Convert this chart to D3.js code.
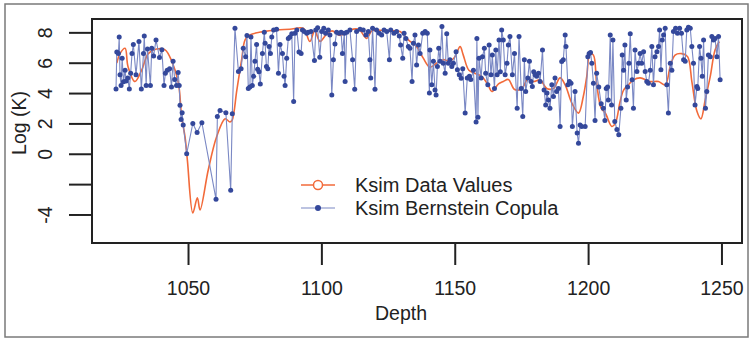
<!DOCTYPE html>
<html>
<head>
<meta charset="utf-8">
<script src="https://cdn.jsdelivr.net/npm/d3@7"></script>
<style>
  body { margin: 0; background: #fff; }
  svg { display: block; font-family: "Liberation Sans", Arial, sans-serif; }
</style>
</head>
<body>
<svg id="chart" width="752" height="340"></svg>
<script>
// ---- data ----
var dataDepth = [1023.3,1024.5,1026.4,1027.5,1030.1,1032.6,1035.1,1038.2,1041.4,1043.9,1046.4,1047.6,1048.9,1049.8,
  1051.8,1053.5,1054.5,1057.6,1060.7,1063.9,1065.7,1066.5,1068.3,1070.1,1071.4,1073.2,1078.2,1083.3,1088.2,1093.2,
  1095.7,1097.5,1099.5,1102,1104,1107,1110.7,1114,1117,1119,1125,1129.5,1132.6,1135.7,1138.2,1140.7,1143.2,1145.7,
  1148.2,1150.1,1152,1153.2,1155.3,1157.5,1160.1,1162.6,1163.9,1166.4,1168.2,1170.1,1172.3,1174,1175.7,1177.6,
  1179.5,1182,1184.5,1187,1189.5,1191.4,1193.9,1196.4,1198.2,1199.5,1200.7,1202,1203.2,1204.9,1206.4,1208.9,
  1210.2,1212,1213.3,1215.1,1217,1219.5,1223.3,1226.4,1228.9,1230.8,1232.6,1235.1,1237.3,1238.9,1240.8,1242.3,
  1243.9,1245.8,1247.6,1249.2];
var dataK = [5.97,6.6,6.95,5.75,4.76,5.5,6.6,6.9,6.85,6.1,4.65,2.45,1.1,-0.5,
  -3.9,-2.9,-3.7,-1.05,1.1,2.3,2.1,2.2,4.2,6.2,7.5,7.83,8.05,8.16,8.2,8.27,
  7.4,8.1,7.4,7.9,8.1,7.8,8.16,8.2,7.6,8.1,8.1,8.05,7.5,7.06,6.3,5.7,5.97,6.2,
  6.1,6.4,7.06,6.5,5.5,5.3,5.1,4.5,4.1,4.6,4.76,4.9,4.25,4.2,4.43,5.0,
  4.76,4.87,4.3,4.3,5.0,4.54,3.33,2.68,3.77,5.1,6.6,6.5,4.65,3.0,2.7,1.8,
  2.0,3.44,4.2,4.54,4.87,5.0,4.76,4.76,4.54,5.75,6.5,6.6,6.4,4.76,2.8,2.3,
  3.55,5.1,6.84,7.4];

var copDepth = [1023.0,1023.3,1023.9,1024.2,1024.5,1024.9,1025.3,1025.8,1026.4,1026.8,1027.4,1028.0,1028.5,1029.0,1029.5,
  1030.5,1031.6,1032.5,1033.3,1033.6,1034.3,1034.8,1035.9,1036.4,1037.1,1038.0,1039.3,1040.2,1041.0,1041.5,1042.2,
  1043.1,1043.8,1044.4,1045.0,1045.7,1046.3,1046.7,1047.0,1047.4,1047.8,1048.2,1049.5,1051.8,1053.4,1055.2,1060.5,
  1061.0,1062.0,1064.2,1066.0,1066.6,1067.6,1068.9,1069.9,1070.7,1071.6,1072.1,1072.6,1073.2,1073.6,1074.1,1074.6,
  1075.1,1075.7,1076.1,1076.6,1077.1,1077.9,1078.6,1078.9,1079.4,1079.9,1080.4,1080.9,1081.4,1082.1,1083.2,1083.9,
  1084.5,1085.4,1086.0,1086.4,1087.0,1087.6,1088.2,1088.9,1089.6,1090.1,1090.8,1091.6,1092.4,1092.9,1093.6,1094.5,
  1095.1,1096.1,1097.4,1097.9,1098.6,1099.4,1100.1,1100.9,1101.6,1102.6,1103.2,1103.9,1104.5,1105.1,1105.7,1106.6,
  1107.4,1107.9,1108.6,1108.9,1109.5,1110.7,1111.7,1112.5,1113.2,1114.5,1115.7,1116.7,1117.6,1118.2,1118.5,1119.2,
  1120.1,1120.7,1121.7,1122.6,1123.5,1124.5,1125.5,1126.0,1127.2,1128.2,1129.2,1129.7,1130.5,1131.0,1131.7,1132.6,
  1133.2,1134.0,1134.5,1135.1,1135.7,1136.4,1137.0,1138.0,1138.9,1139.7,1140.5,1140.7,1141.4,1142.0,1142.6,1143.0,
  1143.5,1144.0,1144.5,1145.2,1145.7,1146.4,1147.0,1147.6,1148.2,1148.9,1149.5,1150.5,1151.0,1151.7,1152.4,1153.0,
  1153.9,1154.7,1155.5,1156.0,1157.0,1158.0,1158.3,1158.7,1159.1,1159.9,1160.4,1161.1,1161.6,1162.4,1162.9,1163.6,
  1164.1,1164.9,1165.4,1165.9,1166.6,1167.1,1167.6,1168.2,1168.9,1169.6,1170.1,1170.7,1171.6,1172.4,1173.4,1174.1,
  1174.9,1175.5,1176.1,1176.6,1177.4,1178.0,1178.6,1179.1,1179.6,1180.1,1180.7,1181.4,1182.0,1182.9,1183.5,1184.1,
  1184.6,1185.1,1185.7,1186.4,1187.0,1187.6,1188.2,1188.9,1189.5,1190.1,1190.7,1191.4,1191.7,1192.4,1193.0,1193.6,
  1194.1,1195.1,1195.9,1196.4,1197.0,1197.6,1198.9,1199.9,1200.4,1200.9,1201.4,1202.0,1202.6,1203.2,1204.0,1204.9,
  1205.7,1206.3,1206.8,1207.3,1207.6,1208.3,1208.8,1209.3,1210.0,1210.8,1211.5,1212.3,1212.8,1213.3,1213.8,1214.3,
  1214.8,1215.3,1215.8,1216.5,1217.0,1217.6,1218.3,1218.9,1219.5,1220.1,1220.8,1221.4,1222.0,1222.6,1223.3,1223.9,
  1224.5,1225.1,1225.8,1226.4,1226.8,1227.3,1227.8,1228.3,1228.9,1229.5,1230.1,1230.8,1231.4,1232.0,1232.8,1233.5,
  1234.3,1235.0,1235.8,1236.4,1237.0,1237.6,1238.3,1238.9,1239.5,1240.1,1240.8,1241.1,1241.8,1242.3,1242.8,1243.3,
  1244.0,1244.5,1245.1,1245.8,1246.4,1247.0,1247.6,1248.3,1248.9,1249.5];
var copK = [4.26,6.7,6.6,7.7,5.2,4.5,6.3,4.75,5.5,4.8,5.0,4.26,5.3,6.6,7.2,
  5.2,7.4,4.26,6.6,7.76,4.5,6.9,4.5,6.95,6.45,7.5,6.35,6.85,4.5,5.3,5.5,
  5.6,4.4,6.1,4.9,4.5,5.35,4.5,3.2,2.25,2.7,1.9,0.0,2.0,1.4,2.05,-3.0,
  2.45,2.85,2.7,-2.4,2.63,8.27,5.42,5.6,6.95,6.4,7.8,4.3,4.4,7.7,4.5,5.1,
  6.1,7.2,5.57,5.4,4.6,6.6,8.0,7.28,5.75,5.6,7.06,6.6,7.7,8.16,8.2,5.3,
  7.2,6.6,5.1,4.5,6.3,7.6,7.7,7.9,3.44,7.94,8.16,6.7,6.6,8.16,8.05,7.94,
  8.0,8.05,6.14,8.16,8.3,6.36,8.05,8.27,7.94,8.16,7.83,3.88,6.2,7.24,8.0,7.94,
  8.0,6.6,7.94,4.76,8.0,8.16,6.2,4.25,8.05,8.2,8.16,7.83,8.05,6.2,5.0,8.27,
  4.25,8.16,7.94,7.83,8.16,8.05,6.2,8.16,7.94,8.05,7.76,7.17,6.3,7.94,7.6,7.06,
  6.95,4.76,7.28,7.83,5.85,7.17,6.6,7.94,8.05,7.94,4.0,6.84,4.54,6.1,4.2,3.88,
  5.75,6.95,6.1,8.38,5.97,5.3,7.9,5.97,6.2,5.75,5.97,6.73,5.53,5.2,4.98,5.6,
  2.68,5.0,5.1,4.9,5.5,2.1,7.6,2.4,6.3,5.0,6.4,6.95,5.3,4.54,7.17,5.2,
  6.5,4.3,6.84,5.2,7.5,5.4,8.16,7.5,5.2,5.96,7.17,7.72,5.2,6.6,3.0,7.72,
  4.3,2.45,6.2,4.1,5.0,6.1,4.76,4.43,5.4,5.2,5.1,5.3,4.76,6.84,4.2,3.22,
  4.0,3.55,3.0,4.54,3.77,5.0,4.1,4.3,1.8,6.08,6.2,7.83,7.06,4.54,4.76,4.65,
  1.8,4.1,1.36,0.7,1.9,1.8,1.8,6.4,6.6,6.67,5.96,4.65,2.2,5.3,4.4,3.3,
  3.0,2.2,4.3,4.4,3.55,7.83,3.22,7.5,2.13,1.6,1.25,3.0,6.5,5.5,7.17,3.55,
  4.4,5.96,7.9,4.87,3.0,6.84,5.42,5.96,6.6,5.96,6.73,5.42,4.76,4.65,5.5,7.06,
  4.54,6.4,6.73,7.06,8.16,5.53,7.5,7.83,8.27,4.54,2.68,5.96,5.5,8.05,8.27,7.94,
  8.27,7.94,6.2,6.1,8.16,8.33,8.27,7.06,5.96,3.22,4.43,4.3,7.06,6.3,5.1,7.5,
  3.0,4.1,6.5,6.4,7.72,7.5,7.6,6.4,7.72,4.87];

var xTicks = [1050, 1100, 1150, 1200, 1250];
var yTicks = [-4, -2, 0, 2, 4, 6, 8];
var yTickLabels = {"-4": "-4", "-2": "", "0": "0", "2": "2", "4": "4", "6": "6", "8": "8"};
var legendNames = ["Ksim Data Values", "Ksim Bernstein Copula"];

// ---- layout ----
var box = {left: 92, right: 742, top: 19, bottom: 243};
var orange = "#f26a3a";
var blueLine = "#7a88c4";
var blueDot = "#34489b";

var svg = d3.select("#chart");

svg.append("rect").attr("x", 5).attr("y", 4).attr("width", 743).attr("height", 333)
  .attr("fill", "#fff").attr("stroke", "#7a7a7a").attr("stroke-width", 1.5);

var x = d3.scaleLinear().domain([1014, 1257.7]).range([box.left, box.right]);
var y = d3.scaleLinear().domain([-5.88, 8.88]).range([box.bottom, box.top]);

// x axis
var xAxis = svg.append("g").attr("transform", "translate(0," + box.bottom + ")")
  .call(d3.axisBottom(x).tickValues(xTicks).tickFormat(d3.format("d")).tickSize(22).tickSizeOuter(0).tickPadding(9));
xAxis.select(".domain").remove();
xAxis.selectAll("line").attr("stroke", "#222").attr("stroke-width", 2);
xAxis.selectAll("text").attr("font-size", 19.5).attr("fill", "#222")
  .attr("font-family", "Liberation Sans, Arial, sans-serif").attr("dy", null).attr("y", 52);

// y axis
var yAxis = svg.append("g").attr("transform", "translate(" + box.left + ",0)")
  .call(d3.axisLeft(y).tickValues(yTicks).tickFormat(function(d) { return yTickLabels[d]; })
    .tickSize(23).tickSizeOuter(0));
yAxis.select(".domain").remove();
yAxis.selectAll("line").attr("stroke", "#222").attr("stroke-width", 2);
yAxis.selectAll("text").attr("font-size", 19.5).attr("fill", "#222")
  .attr("font-family", "Liberation Sans, Arial, sans-serif")
  .attr("text-anchor", "middle").attr("dy", null)
  .attr("x", 0).attr("y", -40).attr("transform", "rotate(-90)");

// axis titles
svg.append("text").attr("x", 401).attr("y", 320).attr("text-anchor", "middle")
  .attr("font-size", 19.5).attr("fill", "#222").text("Depth");
svg.append("text").attr("transform", "translate(26,123) rotate(-90)").attr("text-anchor", "middle")
  .attr("font-size", 19.5).attr("fill", "#222").text("Log (K)");

// series
var dataPts = dataDepth.map(function(d, i) { return [d, dataK[i]]; });
var copPts = copDepth.map(function(d, i) { return [d, copK[i]]; });

var smooth = d3.line().x(function(d) { return x(d[0]); }).y(function(d) { return y(d[1]); })
  .curve(d3.curveCatmullRom.alpha(0.5));
var straight = d3.line().x(function(d) { return x(d[0]); }).y(function(d) { return y(d[1]); });

svg.append("path").datum(dataPts).attr("d", smooth)
  .attr("fill", "none").attr("stroke", orange).attr("stroke-width", 1.6);

svg.append("path").datum(copPts).attr("d", straight)
  .attr("fill", "none").attr("stroke", blueLine).attr("stroke-width", 1.1);

svg.selectAll(".cop").data(copPts).enter().append("circle").attr("class", "cop")
  .attr("cx", function(d) { return x(d[0]); }).attr("cy", function(d) { return y(d[1]); })
  .attr("r", 2.5).attr("fill", blueDot);

// plot frame
svg.append("rect").attr("x", box.left).attr("y", box.top)
  .attr("width", box.right - box.left).attr("height", box.bottom - box.top)
  .attr("fill", "none").attr("stroke", "#222").attr("stroke-width", 2);

// legend
var legY = [185, 208];
var leg = svg.append("g");
leg.append("line").attr("x1", 301).attr("x2", 335).attr("y1", legY[0]).attr("y2", legY[0])
  .attr("stroke", orange).attr("stroke-width", 1.4);
leg.append("circle").attr("cx", 318).attr("cy", legY[0]).attr("r", 4.5)
  .attr("fill", "#fff").attr("stroke", orange).attr("stroke-width", 1.5);
leg.append("line").attr("x1", 301).attr("x2", 335).attr("y1", legY[1]).attr("y2", legY[1])
  .attr("stroke", blueLine).attr("stroke-width", 1.1);
leg.append("circle").attr("cx", 318).attr("cy", legY[1]).attr("r", 3).attr("fill", blueDot);
leg.selectAll("text").data(legendNames).enter().append("text")
  .attr("x", 355).attr("y", function(d, i) { return legY[i] + 7; })
  .attr("font-size", 20).attr("fill", "#222").text(function(d) { return d; });
</script>
</body>
</html>
